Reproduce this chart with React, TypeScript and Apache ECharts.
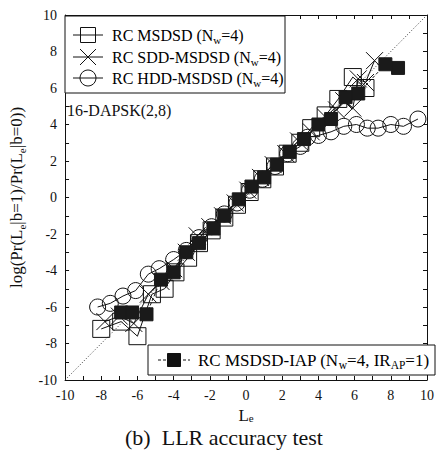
import React, { useEffect, useRef } from "react";
import * as echarts from "echarts";

const FONT = '"Liberation Serif", "Times New Roman", serif';

// RC MSDSD (Nw=4) — open squares
const msdsd: number[][] = [
  [-8.0, -7.2], [-6.9, -6.8], [-6.0, -7.6], [-5.2, -5.3], [-4.5, -5.0], [-3.9, -4.1],
  [-3.2, -3.3], [-2.6, -2.5], [-1.9, -1.8], [-1.2, -1.1], [-0.5, -0.4], [0.2, 0.3],
  [0.9, 1.0], [1.6, 1.7], [2.3, 2.4], [3.0, 3.0], [3.6, 3.8], [4.4, 4.5],
  [5.1, 5.4], [5.9, 6.6], [6.6, 6.0],
];

// RC SDD-MSDSD (Nw=4) — crosses
const sdd: number[][] = [
  [-7.8, -6.8], [-7.0, -6.5], [-6.2, -6.9], [-5.4, -5.3], [-4.7, -4.6], [-4.0, -3.9],
  [-3.3, -3.0], [-2.7, -2.1], [-2.0, -1.6], [-1.3, -1.0], [-0.6, -0.3], [0.1, 0.4],
  [0.8, 1.1], [1.5, 1.8], [2.2, 2.4], [2.9, 3.1], [3.6, 3.6], [4.4, 4.4],
  [5.0, 4.8], [5.4, 5.3], [5.9, 4.9], [6.2, 6.5], [6.6, 6.3], [7.1, 7.5],
];

// RC HDD-MSDSD (Nw=4) — open circles
const hdd: number[][] = [
  [-8.2, -6.0], [-7.5, -5.8], [-6.8, -5.4], [-6.1, -5.1], [-5.4, -4.2], [-4.8, -3.9],
  [-4.0, -3.4], [-3.3, -2.9], [-2.6, -2.2], [-1.9, -1.6], [-1.2, -0.9], [-0.5, -0.3],
  [0.2, 0.4], [0.9, 1.0], [1.6, 1.7], [2.3, 2.4], [3.0, 2.8], [3.4, 3.3],
  [4.0, 3.4], [4.7, 3.6], [5.4, 3.9], [6.1, 4.0], [6.7, 3.8], [7.3, 3.8],
  [8.0, 4.0], [8.7, 3.9], [9.5, 4.3],
];

// RC MSDSD-IAP (Nw=4, IRAP=1) — filled squares
const iap: number[][] = [
  [-6.9, -6.3], [-6.3, -6.3], [-5.5, -6.4], [-4.7, -4.5], [-4.0, -4.1], [-3.3, -3.0],
  [-2.6, -2.5], [-1.8, -1.7], [-1.2, -1.0], [-0.4, -0.1], [0.3, 0.6], [1.0, 1.1],
  [1.7, 1.8], [2.4, 2.5], [3.2, 3.2], [4.0, 4.0], [4.7, 4.3], [5.5, 5.5],
  [6.2, 5.7], [7.7, 7.3], [8.4, 7.1],
];

const diagonal: number[][] = [[-10, -10], [10, 10]];

const legendTop = [
  "{a|RC MSDSD (N}{s|w}{a|=4)}",
  "{a|RC SDD-MSDSD (N}{s|w}{a|=4)}",
  "{a|RC HDD-MSDSD (N}{s|w}{a|=4)}",
];
const legendBottom = "{a|RC MSDSD-IAP (N}{s|w}{a|=4, IR}{s|AP}{a|=1)}";

function richText(size: number, sub: number) {
  return {
    a: { fontSize: size, fontFamily: FONT, color: "#111", lineHeight: size + 4 },
    s: { fontSize: sub, fontFamily: FONT, color: "#111", lineHeight: sub, verticalAlign: "bottom" },
  };
}

const CROSS = "path://M0,0L10,10M10,0L0,10";

function axisCommon(showLabel: boolean) {
  return {
    type: "value",
    min: -10,
    max: 10,
    interval: 2,
    axisLine: { show: true, onZero: false, lineStyle: { color: "#111", width: 1 } },
    axisTick: { show: true, inside: true, length: 4, lineStyle: { color: "#111" } },
    minorTick: { show: true, splitNumber: 2, length: 4, lineStyle: { color: "#111" } },
    splitLine: { show: false },
    minorSplitLine: { show: false },
    axisLabel: { show: showLabel, color: "#111", fontFamily: FONT, fontSize: 14, margin: 8 },
  };
}

export default function App() {
  const ref = useRef<HTMLDivElement>(null);
  useEffect(() => {
    const chart = echarts.init(ref.current!, null, { renderer: "svg" });
    const rowY = [35, 57, 78];
    const graphic: any[] = [
      {
        type: "rect",
        shape: { x: 65, y: 16, width: 220, height: 77 },
        style: { fill: "#fff", stroke: "#111", lineWidth: 1 },
        z: 100,
      },
      ...rowY.map((y) => ({
        type: "line",
        shape: { x1: 73, y1: y, x2: 103, y2: y },
        style: { stroke: "#111", lineWidth: 1 },
        z: 101,
      })),
      {
        type: "rect",
        shape: { x: 80.5, y: rowY[0] - 7.5, width: 15, height: 15 },
        style: { fill: "none", stroke: "#111", lineWidth: 1 },
        z: 101,
      },
      {
        type: "line",
        shape: { x1: 80, y1: rowY[1] - 8, x2: 96, y2: rowY[1] + 8 },
        style: { stroke: "#111", lineWidth: 1 },
        z: 101,
      },
      {
        type: "line",
        shape: { x1: 96, y1: rowY[1] - 8, x2: 80, y2: rowY[1] + 8 },
        style: { stroke: "#111", lineWidth: 1 },
        z: 101,
      },
      {
        type: "circle",
        shape: { cx: 88, cy: rowY[2], r: 8 },
        style: { fill: "none", stroke: "#111", lineWidth: 1 },
        z: 101,
      },
      ...legendTop.map((t, i) => ({
        type: "text",
        x: 112,
        y: rowY[i],
        style: { text: t, rich: richText(16, 11), align: "left", verticalAlign: "middle" },
        z: 101,
      })),
      {
        type: "rect",
        shape: { x: 148, y: 345, width: 287, height: 30 },
        style: { fill: "#fff", stroke: "#111", lineWidth: 1 },
        z: 100,
      },
      {
        type: "line",
        shape: { x1: 158, y1: 360, x2: 190, y2: 360 },
        style: { stroke: "#111", lineWidth: 1, lineDash: [3, 2] },
        z: 101,
      },
      {
        type: "rect",
        shape: { x: 167.5, y: 353.5, width: 13, height: 13 },
        style: { fill: "#111", stroke: "#111", lineWidth: 1 },
        z: 101,
      },
      {
        type: "text",
        x: 198,
        y: 360,
        style: { text: legendBottom, rich: richText(17, 11.5), align: "left", verticalAlign: "middle" },
        z: 101,
      },
      {
        type: "text",
        x: 67,
        y: 110,
        style: { text: "16-DAPSK(2,8)", font: `16px ${FONT}`, fill: "#111", align: "left", verticalAlign: "middle" },
        z: 101,
      },
      {
        type: "text",
        x: 224,
        y: 437,
        style: { text: "(b)  LLR accuracy test", font: `22px ${FONT}`, fill: "#111", align: "center", verticalAlign: "middle" },
        z: 101,
      },
    ];

    const option: any = {
      animation: false,
      backgroundColor: "#fff",
      grid: { left: 62, top: 15, width: 365, height: 365, containLabel: false },
      xAxis: [
        {
          ...axisCommon(true),
          position: "bottom",
          name: "{a|L}{s|e}",
          nameLocation: "middle",
          nameGap: 22,
          nameTextStyle: {
            rich: {
              a: { fontSize: 17, fontFamily: FONT, color: "#111", lineHeight: 17 },
              s: { fontSize: 11, fontFamily: FONT, color: "#111", lineHeight: 9, verticalAlign: "bottom" },
            },
          },
        },
        { ...axisCommon(false), position: "top" },
      ],
      yAxis: [
        {
          ...axisCommon(true),
          position: "left",
          name: "{a|log(Pr(L}{s|e}{a||b=1)/Pr(L}{s|e}{a||b=0))}",
          nameLocation: "middle",
          nameGap: 36,
          nameRotate: 90,
          nameTextStyle: {
            rich: {
              a: { fontSize: 17, fontFamily: FONT, color: "#111", lineHeight: 22 },
              s: { fontSize: 11, fontFamily: FONT, color: "#111", lineHeight: 11, verticalAlign: "bottom" },
            },
          },
        },
        { ...axisCommon(false), position: "right" },
      ],
      graphic,
      series: [
        {
          type: "line",
          data: diagonal,
          symbol: "none",
          lineStyle: { color: "#333", width: 1, type: [1, 2] },
          silent: true,
          z: 1,
        },
        {
          type: "line",
          data: msdsd,
          symbol: "rect",
          symbolSize: 17,
          showAllSymbol: true,
          itemStyle: { color: "rgba(0,0,0,0)", borderColor: "#111", borderWidth: 1 },
          lineStyle: { color: "#111", width: 1 },
          z: 2,
        },
        {
          type: "line",
          data: sdd,
          symbol: CROSS,
          symbolSize: 17,
          showAllSymbol: true,
          itemStyle: { color: "rgba(0,0,0,0)", borderColor: "#111", borderWidth: 1 },
          lineStyle: { color: "#111", width: 1 },
          z: 3,
        },
        {
          type: "line",
          data: hdd,
          symbol: "circle",
          symbolSize: 16,
          showAllSymbol: true,
          itemStyle: { color: "rgba(0,0,0,0)", borderColor: "#111", borderWidth: 1 },
          lineStyle: { color: "#111", width: 1 },
          z: 4,
        },
        {
          type: "line",
          data: iap,
          symbol: "rect",
          symbolSize: 13,
          showAllSymbol: true,
          itemStyle: { color: "#1a1a1a", borderColor: "#1a1a1a", borderWidth: 1 },
          lineStyle: { color: "#111", width: 1, type: [3, 2] },
          z: 5,
        },
      ],
    };
    chart.setOption(option);
    return () => chart.dispose();
  }, []);
  return <div ref={ref} style={{ position: "absolute", left: 0, top: 0, width: 441, height: 455 }} />;
}
